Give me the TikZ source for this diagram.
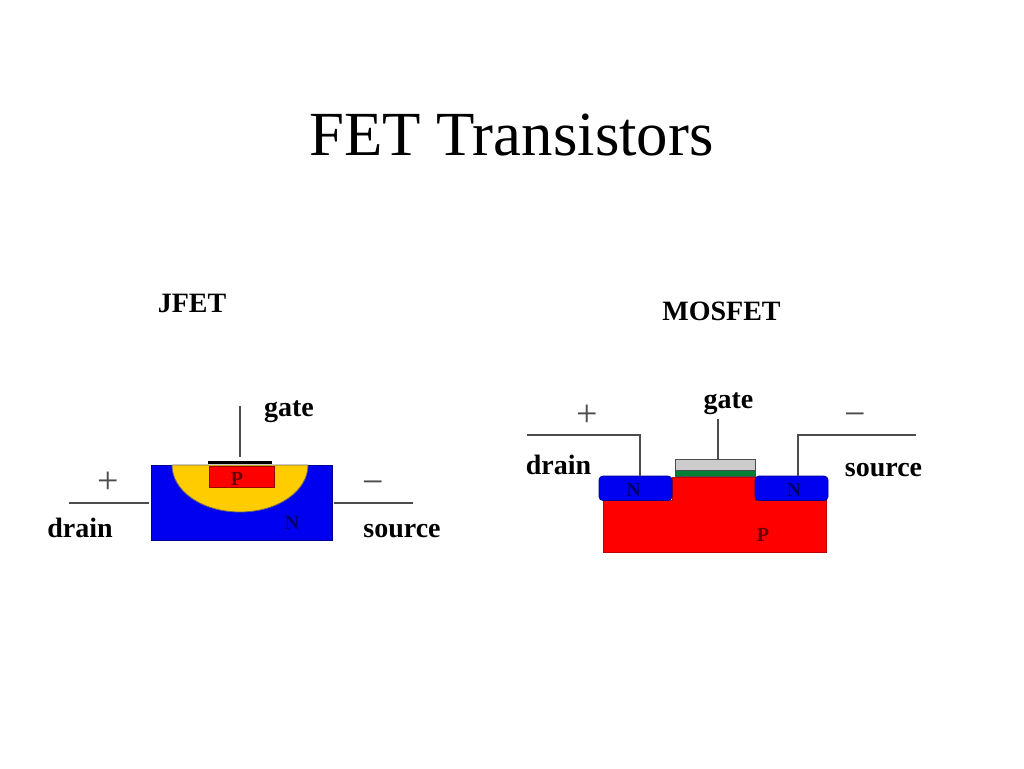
\documentclass[tikz,border=0pt]{standalone}
\usepackage{fontspec}
\setmainfont{Liberation Serif}
\usetikzlibrary{positioning}

\begin{document}
\begin{tikzpicture}[
  x=1pt, y=-1pt,
  region/.style={draw=#1!60!black, line width=0.8pt, fill=#1, inner sep=0pt, outer sep=0pt, anchor=north west},
  lbl/.style={font=\fontsize{28}{30}\selectfont\bfseries, inner sep=0pt, anchor=base},
  tag/.style={font=\fontsize{20}{22}\selectfont\bfseries, inner sep=0pt},
  sign/.style={font=\fontsize{38}{40}\selectfont, inner sep=0pt, text=black!70},
  wire/.style={draw=black!70, line width=1.3pt}]
\useasboundingbox (0,0) rectangle (1024,768);
\definecolor{chanblue}{RGB}{0,0,240}
\definecolor{fetred}{RGB}{255,0,0}
\definecolor{depl}{RGB}{255,204,0}
\definecolor{oxide}{RGB}{0,128,50}
\definecolor{metal}{RGB}{204,204,204}
\node[font=\fontsize{62.8}{70}\selectfont, inner sep=0pt, anchor=base] (title) at (511.5,155) {FET Transistors};
% JFET
\node[lbl] (jfet) at (192,312) {JFET};
\node[region=chanblue, minimum width=181pt, minimum height=75pt] (jbody) at (151.5,465) {};
\draw[draw=black!60, line width=0.8pt, fill=depl] (172,465) .. controls (172,491) and (202,512) .. (240,512)
  .. controls (278,512) and (308,491) .. (308,465) -- cycle;
\node[region=fetred, minimum width=65pt, minimum height=21pt] (jgate) at (209,466) {};
\node[fill=black, minimum width=64pt, minimum height=2.5pt, inner sep=0pt, outer sep=0pt] (jbar) at (240,462.5) {};
\node[tag, text=black!60!fetred] (jp) at (237,479) {P};
\node[tag, text=black!55!chanblue] (jn) at (292,523) {N};
\node[lbl] (jgatelbl) at (289,416) {gate};
\node[lbl] (jdrain) at (80,537) {drain};
\node[lbl] (jsource) at (402,537) {source};
\node[sign] (jplus) at (108.5,483) {+};
\node[sign] (jminus) at (373.5,488) {\textminus};
\coordinate (jgatetop) at (240,406);
\coordinate (jdrainend) at (69,503);
\coordinate (jsourceend) at (413,503);
\draw[wire] (jgatetop) -- ([yshift=4pt]jbar.north);
\draw[wire] (jdrainend) -- ([xshift=-3pt]jbody.west |- jdrainend);
\draw[wire] (jsourceend) -- ([xshift=1.5pt]jbody.east |- jsourceend);
% MOSFET
\node[lbl] (mosfet) at (721.5,320) {MOSFET};
\draw[draw=fetred!75!black, line width=0.8pt, fill=fetred] (603,500) -- (672,500) -- (672,477) -- (755,477)
  -- (755,500) -- (826,500) -- (826,552) -- (603,552) -- cycle;
\node[region=chanblue, rounded corners=4pt, minimum width=73pt, minimum height=24.5pt] (ndrain) at (599,476) {};
\node[region=chanblue, rounded corners=4pt, minimum width=73pt, minimum height=24.5pt] (nsource) at (755,476) {};
\node[region=metal, draw=black!70, minimum width=80pt, minimum height=11pt] (metalgate) at (675,459) {};
\node[region=oxide, draw=black!70, minimum width=80pt, minimum height=6pt] (oxidelay) at (675,470) {};
\node[tag, text=black!55!chanblue] (nd) at (633.5,490) {N};
\node[tag, text=black!55!chanblue] (ns) at (794,490) {N};
\node[tag, text=black!60!fetred] (mp) at (763,535) {P};
\node[lbl] (mgatelbl) at (728.5,408) {gate};
\node[lbl] (mdrain) at (558.5,474) {drain};
\node[lbl] (msource) at (883.5,476) {source};
\node[sign] (mplus) at (587,416) {+};
\node[sign] (mminus) at (855,420) {\textminus};
\coordinate (mgatetop) at (718,419);
\coordinate (mdrainend) at (527,435);
\coordinate (msourceend) at (916,435);
\draw[wire] (mgatetop) -- (mgatetop |- metalgate.north);
\draw[wire] (mdrainend) -| ([xshift=41pt]ndrain.north west);
\draw[wire] (msourceend) -| ([xshift=43pt]nsource.north west);
\end{tikzpicture}
\end{document}
